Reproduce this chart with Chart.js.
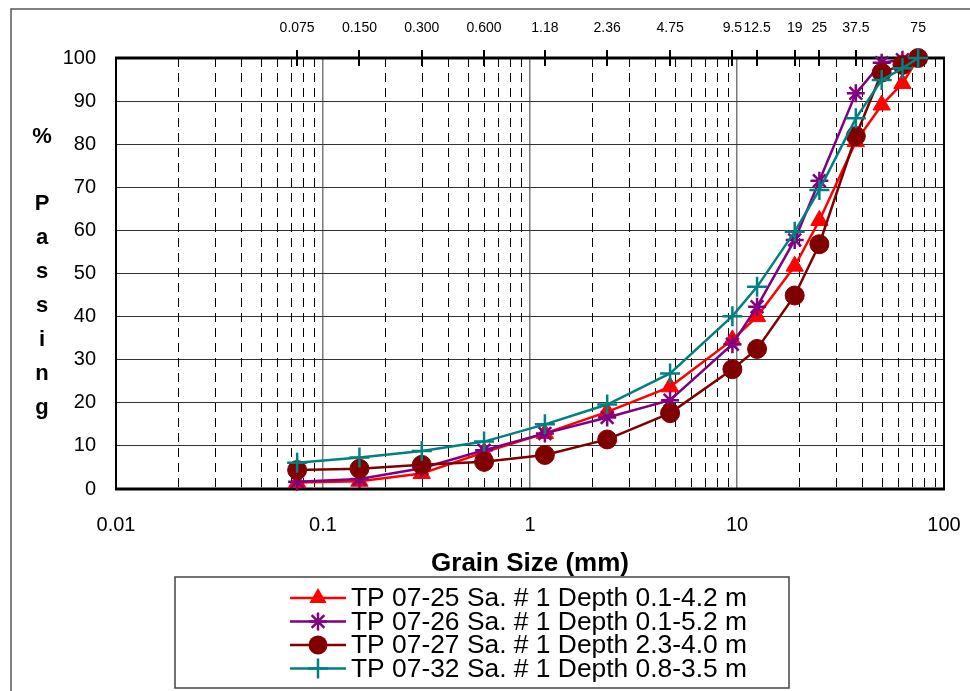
<!DOCTYPE html>
<html>
<head>
<meta charset="utf-8">
<title>Grain Size Distribution</title>
<script src="https://cdn.jsdelivr.net/npm/chart.js@4.4.1/dist/chart.umd.min.js"></script>
<style>
  html, body { margin: 0; padding: 0; background: #fff; }
  #wrap { width: 970px; height: 691px; position: relative; }
</style>
</head>
<body>
<div id="wrap"><canvas id="gsd" width="970" height="691"></canvas></div>
<script>
// sieve sizes (mm) and % passing
const sieveSizes = [75, 63, 50, 37.5, 25, 19, 12.5, 9.5, 4.75, 2.36, 1.18, 0.6, 0.3, 0.15, 0.075];
const tp0725 = [100, 94.1, 89.1, 80.6, 62.3, 51.7, 40.0, 34.6, 23.7, 17.9, 12.9, 8.5, 3.6, 1.8, 1.5];
const tp0726 = [100, 99.6, 98.9, 91.8, 71.5, 57.8, 42.3, 33.6, 20.6, 16.6, 12.9, 9.0, 4.8, 2.3, 1.7];
const tp0727 = [100, 98.4, 96.6, 81.9, 56.8, 44.9, 32.5, 27.8, 17.6, 11.5, 7.9, 6.3, 5.6, 4.7, 4.4];
const tp0732 = [100, 97.6, 94.9, 86.0, 69.4, 59.7, 46.9, 40.1, 26.8, 19.6, 15.0, 11.0, 8.8, 7.3, 6.1];

const seriesNames = [
  "TP 07-25 Sa. # 1 Depth 0.1-4.2 m",
  "TP 07-26 Sa. # 1 Depth 0.1-5.2 m",
  "TP 07-27 Sa. # 1 Depth 2.3-4.0 m",
  "TP 07-32 Sa. # 1 Depth 0.8-3.5 m"
];

// top axis: sieve designations
const topTickValues = [0.075, 0.15, 0.3, 0.6, 1.18, 2.36, 4.75, 9.5, 12.5, 19, 25, 37.5, 75];
const topTickLabels = ["0.075", "0.150", "0.300", "0.600", "1.18", "2.36", "4.75", "9.5", "12.5", "19", "25", "37.5", "75"];

// bottom axis decades
const bottomTickValues = [0.01, 0.1, 1, 10, 100];
const bottomTickLabels = ["0.01", "0.1", "1", "10", "100"];
const yTicks = [0, 10, 20, 30, 40, 50, 60, 70, 80, 90, 100];

const FONT = "'Liberation Sans', Arial, sans-serif";

function toPoints(vals) {
  return sieveSizes.map((s, i) => ({ x: s, y: vals[i] }));
}

const styles = [
  { color: "#FF0000", pointStyle: "triangle", radius: 10 },
  { color: "#800080", pointStyle: "star", radius: 9 },
  { color: "#800000", pointStyle: "circle", radius: 9.5 },
  { color: "#008080", pointStyle: "cross", radius: 10 }
];
const seriesValues = [tp0725, tp0726, tp0727, tp0732];

const datasets = seriesValues.map((vals, i) => ({
  label: seriesNames[i],
  data: toPoints(vals),
  showLine: true,
  borderColor: styles[i].color,
  backgroundColor: styles[i].color,
  borderWidth: 2.5,
  pointStyle: styles[i].pointStyle,
  pointRadius: styles[i].radius,
  pointBorderWidth: styles[i].pointStyle === "circle" || styles[i].pointStyle === "triangle" ? 1 : 2.5,
  pointBorderColor: styles[i].color,
  pointBackgroundColor: styles[i].color,
  tension: 0,
  clip: false,
  order: 4 - i
}));

function drawMarker(ctx, style, x, y) {
  ctx.save();
  ctx.strokeStyle = style.color;
  ctx.fillStyle = style.color;
  const r = style.radius;
  ctx.beginPath();
  if (style.pointStyle === "triangle") {
    ctx.moveTo(x, y - r);
    ctx.lineTo(x + r * 0.866, y + r * 0.5);
    ctx.lineTo(x - r * 0.866, y + r * 0.5);
    ctx.closePath();
    ctx.fill();
  } else if (style.pointStyle === "circle") {
    ctx.arc(x, y, r, 0, Math.PI * 2);
    ctx.fill();
  } else if (style.pointStyle === "star") {
    ctx.lineWidth = 2.5;
    for (let k = 0; k < 4; k++) {
      const a = k * Math.PI / 4;
      ctx.moveTo(x + Math.cos(a) * r, y + Math.sin(a) * r);
      ctx.lineTo(x - Math.cos(a) * r, y - Math.sin(a) * r);
    }
    ctx.stroke();
  } else {
    ctx.lineWidth = 2.5;
    ctx.moveTo(x - r, y); ctx.lineTo(x + r, y);
    ctx.moveTo(x, y - r); ctx.lineTo(x, y + r);
    ctx.stroke();
  }
  ctx.restore();
}

const framePlugin = {
  id: "frame",
  beforeDatasetsDraw(chart) {
    const { ctx, chartArea: a, scales } = chart;
    const xs = scales.x;
    ctx.save();
    // dashed minor lines 2..9 in each decade
    ctx.strokeStyle = "#000";
    ctx.lineWidth = 1;
    ctx.setLineDash([9, 6]);
    for (let d = -2; d < 2; d++) {
      for (let m = 2; m <= 9; m++) {
        const px = Math.round(xs.getPixelForValue(m * Math.pow(10, d))) + 0.5;
        ctx.beginPath();
        ctx.moveTo(px, a.top);
        ctx.lineTo(px, a.bottom);
        ctx.stroke();
      }
    }
    ctx.setLineDash([]);
    // plot border
    ctx.strokeStyle = "#000";
    ctx.lineWidth = 2;
    ctx.strokeRect(a.left, a.top, a.right - a.left, a.bottom - a.top);
    ctx.lineWidth = 3;
    ctx.beginPath();
    ctx.moveTo(a.left - 1, a.top); ctx.lineTo(a.right + 1, a.top);
    ctx.moveTo(a.left - 1, a.bottom); ctx.lineTo(a.right + 1, a.bottom);
    ctx.stroke();
    // top ticks crossing inward
    const x2 = scales.x2;
    ctx.lineWidth = 2;
    topTickValues.forEach(v => {
      const px = Math.round(x2.getPixelForValue(v));
      ctx.beginPath();
      ctx.moveTo(px, a.top);
      ctx.lineTo(px, a.top + 8);
      ctx.stroke();
    });
    ctx.restore();
  },
  afterDraw(chart) {
    const { ctx } = chart;
    ctx.save();
    // outer border
    ctx.strokeStyle = "#555";
    ctx.lineWidth = 1.5;
    ctx.strokeRect(11, 9, 980, 700);

    // y title, stacked letters
    ctx.fillStyle = "#000";
    ctx.font = "bold 22px " + FONT;
    ctx.textAlign = "center";
    ctx.textBaseline = "middle";
    ctx.fillText("%", 42, 137);
    const letters = "Passing".split("");
    letters.forEach((ch, i) => ctx.fillText(ch, 42, 204 + i * 34));

    // x title
    ctx.font = "bold 26px " + FONT;
    ctx.fillText("Grain Size (mm)", 530, 564);

    // legend box
    ctx.strokeStyle = "#444";
    ctx.lineWidth = 1.5;
    ctx.strokeRect(175, 577, 614, 111);
    ctx.font = "26.4px " + FONT;
    ctx.textAlign = "left";
    styles.forEach((st, i) => {
      const y = 598 + i * 23.5;
      ctx.strokeStyle = st.color;
      ctx.lineWidth = 2.5;
      ctx.beginPath();
      ctx.moveTo(290, y); ctx.lineTo(346, y);
      ctx.stroke();
      drawMarker(ctx, st, 318, y);
      ctx.fillStyle = "#000";
      ctx.fillText(seriesNames[i], 351, y + 1);
    });
    ctx.restore();
  }
};

new Chart(document.getElementById("gsd"), {
  type: "scatter",
  data: { datasets },
  options: {
    responsive: false,
    animation: false,
    layout: { autoPadding: false, padding: { left: 0, right: 26, top: 0, bottom: 0 } },
    plugins: { legend: { display: false }, tooltip: { enabled: false } },
    scales: {
      x: {
        type: "logarithmic",
        position: "bottom",
        min: 0.01,
        max: 100,
        afterBuildTicks: s => { s.ticks = bottomTickValues.map(v => ({ value: v })); },
        afterFit: s => { s.height = 202; },
        ticks: {
          autoSkip: false,
          maxRotation: 0,
          padding: 2,
          color: "#000",
          font: { family: FONT, size: 20 },
          callback: (v, i) => bottomTickLabels[i]
        },
        grid: { color: "#7a7a7a", lineWidth: 1.5, drawTicks: true, tickLength: 22, tickColor: "rgba(0,0,0,0)" },
        border: { display: false }
      },
      x2: {
        type: "logarithmic",
        position: "top",
        min: 0.01,
        max: 100,
        afterBuildTicks: s => { s.ticks = topTickValues.map(v => ({ value: v })); },
        afterFit: s => { s.height = 58; },
        ticks: {
          autoSkip: false,
          maxRotation: 0,
          padding: 13,
          color: "#000",
          font: { family: FONT, size: 14 },
          callback: (v, i) => topTickLabels[i]
        },
        grid: { drawOnChartArea: false, drawTicks: true, tickLength: 8, color: "#000", lineWidth: 2 },
        border: { display: false }
      },
      y: {
        min: 0,
        max: 100,
        afterBuildTicks: s => { s.ticks = yTicks.map(v => ({ value: v })); },
        afterFit: s => { s.width = 116; },
        ticks: {
          padding: 20,
          color: "#000",
          font: { family: FONT, size: 20 }
        },
        grid: { color: "#333", lineWidth: 1, drawTicks: false },
        border: { display: false }
      }
    }
  },
  plugins: [framePlugin]
});
</script>
</body>
</html>
